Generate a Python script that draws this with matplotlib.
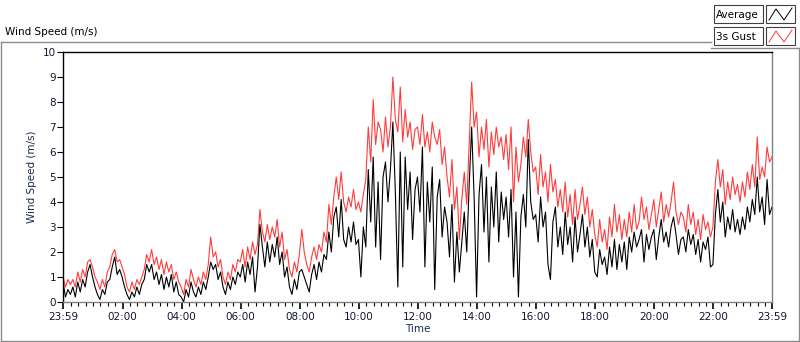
import numpy as np
import matplotlib
matplotlib.use("Agg")
import matplotlib.pyplot as plt
from matplotlib.lines import Line2D
from matplotlib.patches import Rectangle

# 5-minute readings, starting 23:59 of the previous day (one row per hour)
avg_speed = [
    0.8, 0.2, 0.5, 0.3, 0.6, 0.2, 0.8, 0.4, 0.9, 0.6, 1.2, 1.5,
    1.0, 0.6, 0.3, 0.1, 0.5, 0.3, 0.8, 0.9, 1.4, 1.8, 1.1, 1.3,
    1.0, 0.6, 0.3, 0.1, 0.4, 0.2, 0.6, 0.3, 0.7, 0.9, 1.5, 1.2,
    1.5, 0.9, 1.2, 0.7, 1.1, 0.5, 1.0, 0.6, 1.1, 0.4, 0.8, 0.3,
    0.2, 0.0, 0.5, 0.2, 0.8, 0.4, 0.2, 0.6, 0.3, 0.8, 0.5, 1.0,
    1.6, 1.3, 1.5, 0.9, 1.2, 0.6, 0.3, 0.8, 0.5, 1.0, 0.7, 1.2,
    1.0, 1.5, 0.8, 1.6, 1.1, 1.8, 0.4, 1.4, 3.1, 2.2, 1.4, 2.4,
    1.6, 2.3, 1.8, 2.6, 1.5, 2.0, 1.0, 1.4, 0.6, 0.3, 0.9, 0.5,
    1.2, 1.3, 1.0, 0.7, 0.4, 1.1, 1.5, 0.9, 1.6, 1.2, 1.9, 1.7,
    2.8, 2.0, 3.4, 3.8, 2.6, 4.1, 2.5, 2.2, 3.0, 2.4, 3.2, 2.3,
    2.5, 1.0, 3.0, 2.2, 5.3, 3.2, 5.8, 2.2, 4.8, 1.7, 5.0, 5.6,
    4.0, 5.3, 7.2, 4.4, 0.6, 6.0, 1.4, 5.8, 3.7, 5.2, 2.5, 4.5,
    5.0, 3.6, 6.2, 1.4, 4.8, 3.2, 5.4, 0.5, 4.2, 4.9, 2.6, 3.8,
    3.2, 1.8, 3.9, 0.8, 2.8, 1.2, 2.4, 3.6, 2.0, 4.7, 7.0, 4.2,
    0.2, 4.3, 5.5, 2.8, 5.0, 1.6, 4.6, 3.0, 5.2, 2.4, 4.4, 3.3,
    4.2, 2.6, 4.5, 1.0, 3.6, 0.2, 3.4, 4.3, 3.0, 6.5, 4.0, 3.3,
    3.5, 2.4, 4.2, 3.0, 3.6, 1.5, 0.9, 3.2, 3.8, 2.2, 3.0, 1.9,
    3.6, 2.3, 3.0, 1.6, 3.4, 2.0, 2.7, 3.5, 2.2, 3.0, 1.8, 2.5,
    1.2, 1.0, 2.1, 1.5, 1.8, 1.1, 2.2, 1.4, 2.5, 1.3, 2.3, 1.6,
    2.4, 1.3, 2.6, 2.0, 2.8, 2.2, 2.5, 2.9, 1.6, 2.7, 2.1, 2.6,
    2.9, 1.7, 2.6, 3.3, 2.4, 2.8, 2.2, 3.0, 3.4, 2.7, 1.9, 2.5,
    2.6, 2.0, 2.9, 2.3, 2.7, 1.9, 2.5, 1.6, 2.4, 2.1, 2.6, 1.4,
    1.5, 3.5, 4.5, 3.2, 4.0, 2.6, 3.4, 2.9, 3.7, 2.8, 3.3, 2.7,
    3.4, 2.9, 3.8, 3.2, 4.1, 3.5, 5.0, 3.6, 4.2, 3.1, 4.9, 3.5, 3.8,
]
gust_speed = [
    1.0, 0.6, 0.9, 0.7, 0.9, 0.6, 1.2, 0.8, 1.3, 1.0, 1.6, 1.7,
    1.4, 1.0, 0.8, 0.5, 0.9, 0.6, 1.2, 1.4, 1.9, 2.1, 1.6, 1.7,
    1.4, 1.1, 0.6, 0.4, 0.8, 0.5, 0.9, 0.7, 1.0, 1.3, 1.9, 1.6,
    2.1, 1.5, 1.8, 1.3, 1.7, 1.1, 1.6, 1.2, 1.5, 0.9, 1.2, 0.8,
    0.6, 0.3, 0.9, 0.6, 1.3, 0.9, 0.6, 1.0, 0.7, 1.2, 0.9, 1.5,
    2.6, 1.8, 2.0, 1.4, 1.7, 1.0, 0.7, 1.2, 0.9, 1.5, 1.2, 1.7,
    1.6, 2.1, 1.4, 2.2, 1.7, 2.4, 1.9, 2.3, 3.7, 2.8, 2.4, 3.1,
    2.5, 3.0, 2.6, 3.3, 2.2, 2.8, 1.7, 2.1, 1.3, 1.0, 1.6, 1.2,
    1.9, 2.9, 2.0, 1.5, 1.2, 1.8, 2.2, 1.7, 2.3, 2.0, 2.8, 2.4,
    3.9, 3.1, 4.2, 5.0, 4.1, 5.2, 4.0, 3.6, 4.2, 3.8, 4.5, 3.7,
    4.0, 3.6, 4.3, 4.9, 7.0, 5.6, 8.1, 6.3, 7.2, 6.9, 6.0, 7.4,
    6.2, 7.0, 9.0, 7.3, 6.8, 8.6, 6.4, 7.7, 6.6, 7.2, 6.1, 6.9,
    7.0, 6.3, 7.5, 6.2, 6.8, 6.0, 7.2, 6.6, 6.3, 6.9, 5.5, 6.2,
    5.0, 4.2, 5.7, 3.7, 4.6, 2.5, 4.1, 5.2, 3.9, 6.4, 8.8, 7.0,
    7.6, 5.8, 7.0, 6.1, 7.3, 5.4, 6.8, 5.9, 7.0, 6.2, 6.6, 5.7,
    6.7, 5.3, 7.0, 4.0, 6.2, 4.8, 5.5, 6.6, 5.8, 7.3, 6.0, 5.2,
    5.4, 4.3, 5.9, 4.6, 5.2, 4.0, 5.5, 4.4, 4.9, 3.8, 4.5, 3.6,
    4.8, 3.4, 4.3, 3.1, 4.5, 3.3, 3.9, 4.6, 3.5, 4.2, 3.0, 3.7,
    2.7, 2.2, 3.3, 2.4, 2.9, 2.1, 3.4, 2.6, 3.9, 2.8, 3.5, 2.5,
    3.3, 2.6, 3.6, 2.8, 3.9, 2.9, 3.2, 4.2, 3.3, 3.8, 2.9, 3.5,
    4.1, 3.0, 3.7, 4.4, 3.2, 3.9, 3.4, 4.0, 4.8, 3.6, 3.1, 3.6,
    3.4, 2.8, 3.9, 3.1, 3.6, 2.7, 3.3, 2.5, 3.5, 2.9, 3.2, 2.6,
    3.0, 4.8, 5.7, 4.6, 5.3, 3.9, 4.8, 4.1, 5.0, 4.3, 4.7, 4.0,
    4.8, 4.2, 5.2, 4.5, 5.5, 4.6, 6.6, 4.9, 5.4, 5.0, 6.2, 5.6, 5.8,
]
minutes = np.arange(len(avg_speed)) * 5  # minutes after 23:59

tick_labels = ["23:59", "02:00", "04:00", "06:00", "08:00", "10:00", "12:00",
               "14:00", "16:00", "18:00", "20:00", "22:00", "23:59"]
tick_minutes = [0] + [1 + 120 * k for k in range(1, 12)] + [1440]

W, H = 800, 342
fig = plt.figure(figsize=(W / 100, H / 100), dpi=100)
plt.rcParams['font.family'] = ['DejaVu Sans']


def px(x, y):
    return x / W, 1 - y / H


ax = fig.add_axes([63 / W, 1 - 302 / H, 709 / W, 250 / H])
ax.plot(minutes, gust_speed, color='#ff3c3c', lw=0.8, label='3s Gust')
ax.plot(minutes, avg_speed, color='black', lw=0.8, label='Average')
ax.set_xlim(0, 1440)
ax.set_ylim(0, 10)

ax.set_yticks(range(0, 11))
ax.set_xticks(tick_minutes)
ax.set_xticklabels(tick_labels)
ax.set_xticks([1 + 15 * k for k in range(1, 96) if k % 8], minor=True)
ax.tick_params(axis='both', labelsize=7.5, colors='black', labelcolor='#101830')
ax.tick_params(axis='y', length=4, width=0.8, pad=1)
ax.tick_params(axis='x', which='major', length=5, width=1.2, pad=2)
ax.tick_params(axis='x', which='minor', length=3, width=0.8)

ax.spines['top'].set_color('black')
ax.spines['left'].set_color('black')
ax.spines['right'].set_color('#808080')
ax.spines['bottom'].set_color('#808080')
for s in ax.spines.values():
    s.set_linewidth(1.0)

ax.set_ylabel('Wind Speed (m/s)', fontsize=7.5, color='#1c2a4a', labelpad=4)
ax.set_xlabel('Time', fontsize=7.5, color='#1c2a4a', labelpad=2)

# outer frame of the chart panel
grey = '#8c8c8c'
frame = [((0.5, 42), (711, 42)), ((0.5, 42), (0.5, 341)),
         ((0.5, 341), (798.5, 341)), ((798.5, 48), (798.5, 341)),
         ((711, 48), (798.5, 48))]
for a, b in frame:
    (x0, y0), (x1, y1) = px(*a), px(*b)
    fig.add_artist(Line2D([x0, x1], [y0, y1], color=grey, lw=1.0))

fig.text(*px(5, 32), 'Wind Speed (m/s)', fontsize=7.5, color='black', va='center', ha='left')

# legend panel
for y_top, name, col in [(5, 'Average', 'black'), (27, '3s Gust', '#ff3c3c')]:
    bx, by = px(714, y_top + 18)
    fig.add_artist(Rectangle((bx, by), 49 / W, 18 / H, transform=fig.transFigure,
                             facecolor='white', edgecolor='#404040', lw=0.8))
    fig.text(*px(716, y_top + 9.5), name, fontsize=7.5, va='center', ha='left')
    ix, iy = px(766, y_top + 18)
    fig.add_artist(Rectangle((ix, iy), 29 / W, 18 / H, transform=fig.transFigure,
                             facecolor='white', edgecolor='#404040', lw=0.8))
    zz = [px(a, b) for a, b in zip([769, 776, 784, 792],
                                   [y_top + 15, y_top + 4, y_top + 15, y_top + 3])]
    fig.add_artist(Line2D([p[0] for p in zz], [p[1] for p in zz], color=col, lw=0.7))

fig.savefig('out.png', dpi=100)
